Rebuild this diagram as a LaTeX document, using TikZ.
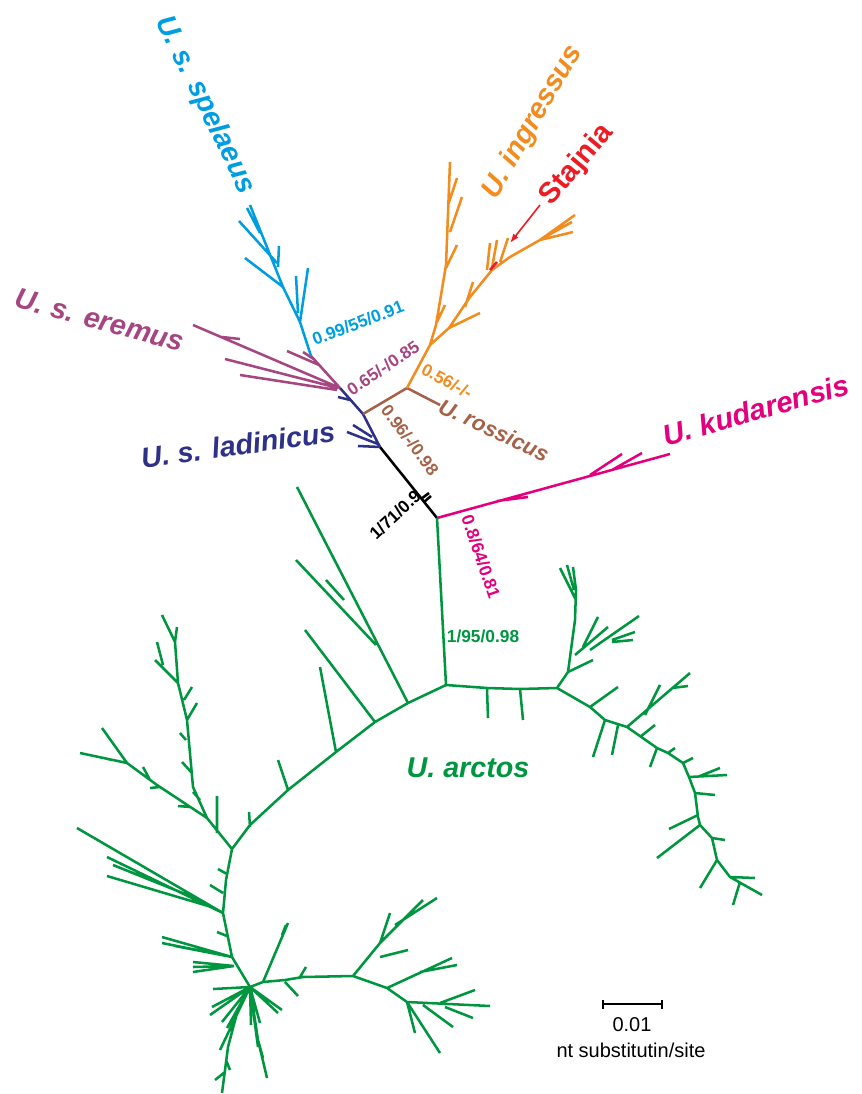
\documentclass[tikz,border=0pt]{standalone}
\usepackage{fontspec}
\setmainfont{Liberation Sans}
\usetikzlibrary{arrows.meta, calc}
\definecolor{trBlue}{RGB}{0,158,224}
\definecolor{trPurple}{RGB}{165,70,130}
\definecolor{trNavy}{RGB}{46,49,136}
\definecolor{trBrown}{RGB}{166,98,72}
\definecolor{trOrange}{RGB}{242,140,30}
\definecolor{trRed}{RGB}{235,28,36}
\definecolor{trPink}{RGB}{228,0,124}
\definecolor{trGreen}{RGB}{0,150,64}

\begin{document}
\begin{tikzpicture}[x=0.75pt, y=-0.75pt,
    br/.style={line width=1.9pt, line join=round},
    clade/.style={font=\fontsize{21.5}{24}\selectfont\bfseries\itshape, inner sep=0pt},
    supp/.style={font=\fontsize{13}{15}\selectfont\bfseries, inner sep=0pt}]
  \useasboundingbox (0,0) rectangle (862,1094);

  % internal nodes of the tree
  \coordinate (root) at (437,518);
  \coordinate (lad)  at (380,447);
  \coordinate (nbr)  at (363,414);
  \coordinate (spl)  at (340,388);
  \coordinate (blu)  at (311,356);
  \coordinate (ros)  at (407,388);
  \coordinate (ing)  at (430,345);
  \coordinate (arc)  at (446,685);
  \coordinate (kud)  at (670,454);
  \coordinate (hub)  at (250,987);

  % backbone
  \draw[br] (root) -- (lad);
  \draw[br] (421,499) -- (429,493) (424,502) -- (431,496);
  \draw[br, trNavy] (lad) -- (nbr) -- (spl)
    (338,397) -- (350,400) (353,425) -- (372,437) (347,432) -- (378,444) (358,446) -- (380,447);
  \draw[br, trBrown] (nbr) -- (ros) -- (440,405);
  \draw[br, trPurple] (spl) -- (blu)
    (193,325) -- (340,388) (225,359) -- (338,388) (240,375) -- (337,390)
    (287,351) -- (319,365) (303,352) -- (315,360) (222,337) -- (240,339);
  \draw[br, trBlue] (blu) -- (300,322) -- (283,287) -- (250,205)
    (300,322) -- (308,268) (298,313) -- (296,276) (283,287) -- (245,258)
    (277,263) -- (239,221) (278,267) -- (279,246) (260,233) -- (247,208);

  % U. ingressus
  \draw[br, trOrange] (ros) -- (ing) -- (436,325) -- (446,265) -- (450,162)
    (448,205) -- (457,178) (450,232) -- (462,197) (446,268) -- (457,245) (437,322) -- (445,305)
    (ing) -- (449,328) -- (470,297) -- (492,270) -- (510,257) -- (540,240) -- (575,215)
    (449,328) -- (480,313) (465,307) -- (473,282) (487,270) -- (490,243) (492,268) -- (497,240)
    (500,262) -- (508,238) (540,240) -- (573,232) (545,237) -- (572,222);
  \draw[br, trRed] (490,270) -- (497,262);
  \draw[trRed, line width=1.2pt, -{Latex[length=7pt, width=5pt]}] (540,205) -- (510,243);

  % U. kudarensis
  \draw[br, trPink] (root) -- (kud)
    (497,501) -- (528,497) (590,475) -- (622,454) (612,470) -- (642,453);

  % U. arctos
  \draw[br, trGreen] (root) -- (arc) -- (487,688) -- (520,689) -- (557,688)
    (487,689) -- (488,718) (520,689) -- (523,720)
    (557,688) -- (568,672) -- (575,620) -- (576,590) -- (573,567)
    (576,600) -- (560,568) (574,590) -- (567,565)
    (568,672) -- (593,660) (575,655) -- (608,627) (583,647) -- (598,617)
    (590,650) -- (639,616) (612,640) -- (635,632) (612,642) -- (633,640)
    (557,688) -- (590,707) -- (605,720) -- (627,727) -- (657,748) -- (668,753) -- (683,763)
      -- (689,777) -- (695,793) -- (698,817) -- (700,825) -- (712,838) -- (717,860)
      -- (730,877) -- (762,895)
    (590,707) -- (618,687) (605,720) -- (593,757) (618,725) -- (612,755)
    (627,727) -- (690,673) (645,715) -- (660,685) (672,688) -- (688,686)
    (640,737) -- (655,725) (657,748) -- (650,767) (668,753) -- (675,748) (683,763) -- (693,758)
    (689,777) -- (727,775) (700,776) -- (720,768) (695,793) -- (715,795)
    (698,815) -- (669,829) (700,825) -- (657,858) (712,838) -- (725,840)
    (717,860) -- (700,888) (730,877) -- (755,878) (740,882) -- (733,905);
  \draw[br, trGreen] (arc) -- (408,703) -- (375,722) -- (336,752) -- (288,790) -- (250,825) -- (232,849)
    (297,487) -- (408,703) (296,560) -- (376,645) (326,580) -- (344,600)
    (305,630) -- (375,722) (320,667) -- (336,752)
    (288,790) -- (278,760) (250,827) -- (249,812)
    (232,849) -- (207,818) -- (193,787) -- (187,720) -- (178,683) -- (175,642) -- (162,615)
    (175,642) -- (177,627) (178,683) -- (155,660) (163,665) -- (157,642)
    (184,700) -- (192,687) (187,720) -- (197,703) (186,740) -- (180,733)
    (192,773) -- (182,762) (200,800) -- (193,792) (217,796) -- (217,833)
    (207,818) -- (157,785) -- (127,763) -- (80,753) (127,763) -- (102,728)
    (190,807) -- (178,806) (160,787) -- (150,788) (150,780) -- (143,767) (112,760) -- (104,758)
    (232,849) -- (226,880) -- (223,913) -- (232,957) -- (250,987)
    (227,874) -- (218,869) (223,893) -- (210,885) (227,936) -- (217,932)
    (77,828) -- (223,913) (107,857) -- (223,913) (107,876) -- (215,908) (113,865) -- (200,900)
    (162,937) -- (232,957) (162,943) -- (232,957) (175,946) -- (232,957)
    (193,962) -- (234,966) (193,972) -- (234,966) (193,967) -- (234,966);
  \draw[br, trGreen] (hub)
    \foreach \p in {(213,989),(212,1007),(210,1015),(222,1022),(227,1028),(251,1025),
                    (260,1023),(278,1013),(282,1010),(220,1050),(258,1047)} { -- \p (hub) }
    (hub) -- (237,1013) -- (228,1047) -- (222,1093)
    (215,1080) -- (225,1072) (230,1070) -- (226,1060)
    (hub) -- (258,1040) -- (267,1078) (258,1040) -- (263,1058)
    (hub) -- (263,982) -- (285,980) -- (303,977) -- (353,976)
    (263,982) -- (288,923) (282,935) -- (286,925) (285,982) -- (298,996) (300,977) -- (306,967)
    (353,976) -- (380,943) -- (423,900) (380,943) -- (390,913) (395,925) -- (437,898)
    (380,957) -- (408,950)
    (353,976) -- (387,988) -- (407,1002) -- (490,1006)
    (387,988) -- (452,958) (420,972) -- (457,965) (423,1005) -- (453,1027)
    (440,1003) -- (475,990) (445,1007) -- (473,1018)
    (407,1002) -- (415,1033) (407,1002) -- (440,1053);

  % clade labels
  \node[clade, trBlue, rotate=-64]   (spelaeus)   at (205,105) {U. s. spelaeus};
  \node[clade, trOrange, rotate=60]  (ingressus)  at (533,122) {U. ingressus};
  \node[trRed, inner sep=0pt, rotate=50,
        font=\fontsize{22}{24}\selectfont\bfseries] (stajnia) at (577,165) {Stajnia};
  \node[clade, trPurple, rotate=-15] (eremus)     at (100,320) {U. s. eremus};
  \node[clade, trNavy, rotate=8]     (ladinicus)  at (238,445) {U. s. ladinicus};
  \node[clade, trBrown, rotate=-25,
        font=\fontsize{16.5}{18}\selectfont\bfseries\itshape] (rossicus) at (494,430) {U. rossicus};
  \node[clade, trPink, rotate=16,
        font=\fontsize{22}{24}\selectfont\bfseries\itshape] (kudarensis) at (756,410) {U. kudarensis};
  \node[clade, trGreen]              (arctos)     at (468,768) {U. arctos};

  % support values
  \node[supp, trBlue, rotate=21]    (sBlue)   at (358,323) {0.99/55/0.91};
  \node[supp, trPurple, rotate=34]  (sPurple) at (383,368) {0.65/-/0.85};
  \node[supp, trOrange, rotate=-29] (sOrange) at (447,381) {0.56/-/-};
  \node[supp, trBrown, rotate=-53]  (sBrown)  at (410,440) {0.96/-/0.98};
  \node[supp, rotate=43]            (sBlack)  at (395,515) {1/71/0.9};
  \node[supp, trPink, rotate=-71]   (sPink)   at (481,557) {0.8/64/0.81};
  \node[supp, trGreen]              (sGreen)  at (483,636) {1/95/0.98};

  % scale bar
  \coordinate (sbL) at (603,1004);
  \coordinate (sbR) at (662,1004);
  \draw[line width=0.9pt] (sbL) -- (sbR) ($(sbL)+(0,-4)$) -- ($(sbL)+(0,5)$) ($(sbR)+(0,-4)$) -- ($(sbR)+(0,5)$);
  \node[font=\fontsize{15}{17}\selectfont, inner sep=0pt] (sbVal) at (632,1025) {0.01};
  \node[font=\fontsize{15}{17}\selectfont, inner sep=0pt] (sbUnit) at (631,1050) {nt substitutin/site};
\end{tikzpicture}
\end{document}
